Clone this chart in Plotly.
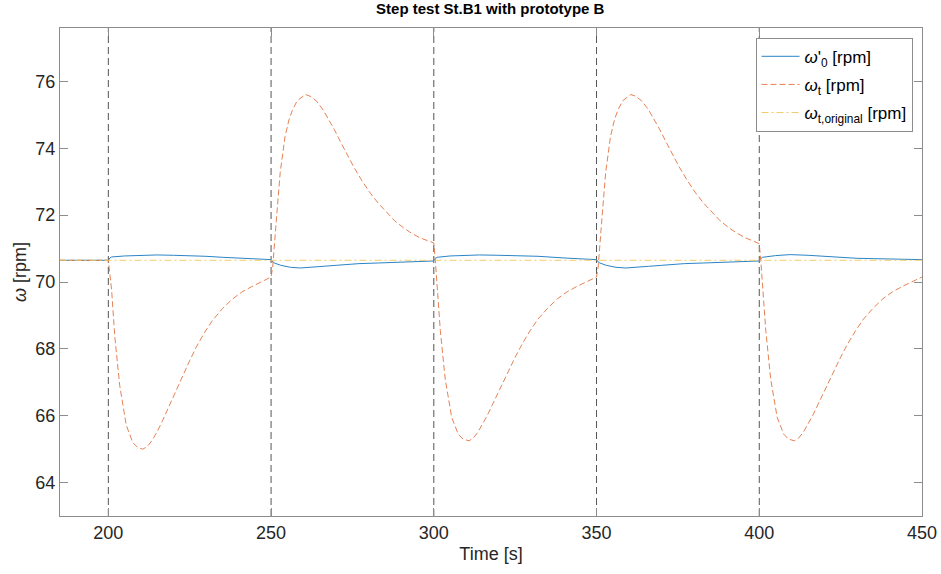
import plotly.graph_objects as go

# ---------------- data ----------------
vlines = [200, 250, 300, 350, 400]

t_omega0 = [185, 200, 200.5, 201, 205, 210, 215, 220, 225, 230, 235, 240, 245, 250,
            250.5, 251, 253, 256, 259, 263, 266, 270, 277, 283, 290, 295, 300,
            300.5, 301, 305, 310, 314, 320, 325, 332, 340, 345, 350,
            350.5, 351, 353, 356, 359, 363, 366, 370, 377, 383, 390, 395, 400,
            400.5, 401, 405, 409.5, 415, 420, 425, 430, 435, 440, 445, 450]
v_omega0 = [70.65, 70.65, 70.72, 70.75, 70.78, 70.80, 70.81, 70.80, 70.79, 70.77, 70.74, 70.71, 70.69, 70.67,
            70.60, 70.57, 70.50, 70.44, 70.42, 70.44, 70.47, 70.50, 70.55, 70.57, 70.60, 70.62, 70.63,
            70.70, 70.74, 70.78, 70.80, 70.81, 70.80, 70.79, 70.77, 70.72, 70.70, 70.67,
            70.60, 70.57, 70.50, 70.44, 70.42, 70.44, 70.47, 70.50, 70.55, 70.57, 70.60, 70.62, 70.63,
            70.70, 70.74, 70.79, 70.82, 70.80, 70.77, 70.73, 70.71, 70.70, 70.69, 70.68, 70.67]

t_omegat = [185, 200, 201, 202, 203.5, 205.5, 207.5, 209, 210.6, 212, 213.5, 215, 216.5, 218, 219.5,
            221, 223, 225, 227, 229.5, 232, 235, 238, 241, 244, 247, 250,
            250.5, 251, 251.8, 252.8, 254.3, 255.5, 256.5, 258, 260.5, 262, 264, 266, 267.6, 269.5,
            271.2, 273, 275.3, 278, 280.4, 283, 285.6, 288, 290.7, 293, 295.8, 298, 300,
            300.5, 301, 302, 303.5, 305.5, 307.5, 309, 310.8, 312, 313.5, 315, 316.5, 318, 319.5,
            321, 323, 325, 327, 329.5, 332, 335, 338, 341, 344, 347, 350,
            350.5, 351, 351.8, 352.8, 354.3, 355.5, 356.5, 358, 360.5, 362, 364, 366, 367.6, 369.5,
            371.2, 373, 375.3, 378, 380.4, 383, 385.6, 388, 390.7, 393, 395.8, 398, 400,
            400.5, 401, 402, 403.5, 405.5, 407.5, 409, 410.8, 412, 413.5, 415, 416.5, 418, 419.5,
            421, 423, 425, 427, 429.5, 432, 435, 438, 441, 444, 447, 450]
v_omegat = [70.65, 70.65, 69.77, 68.35, 66.90, 65.72, 65.20, 65.05, 65.00, 65.08, 65.27, 65.52, 65.82, 66.15, 66.48,
            66.82, 67.25, 67.65, 68.05, 68.48, 68.85, 69.20, 69.48, 69.70, 69.86, 70.00, 70.15,
            70.45, 71.00, 72.07, 73.27, 74.36, 74.85, 75.13, 75.42, 75.61, 75.56, 75.41, 75.15, 74.88, 74.55,
            74.22, 73.87, 73.46, 73.02, 72.67, 72.35, 72.07, 71.83, 71.62, 71.47, 71.32, 71.23, 71.17,
            70.60, 69.95, 68.55, 67.10, 65.95, 65.45, 65.30, 65.25, 65.32, 65.50, 65.74, 66.02, 66.33, 66.64,
            66.96, 67.37, 67.75, 68.12, 68.53, 68.89, 69.22, 69.50, 69.71, 69.87, 70.00, 70.15,
            70.45, 71.00, 72.07, 73.27, 74.36, 74.85, 75.13, 75.42, 75.61, 75.56, 75.41, 75.15, 74.88, 74.55,
            74.22, 73.87, 73.46, 73.02, 72.67, 72.35, 72.07, 71.83, 71.62, 71.47, 71.32, 71.22, 71.15,
            70.60, 69.95, 68.55, 67.10, 65.95, 65.45, 65.30, 65.25, 65.32, 65.50, 65.74, 66.02, 66.33, 66.64,
            66.96, 67.37, 67.75, 68.12, 68.53, 68.89, 69.22, 69.50, 69.71, 69.87, 70.00, 70.15]

t_orig = [185, 450]
v_orig = [70.65, 70.65]

x_ticks = [200, 250, 300, 350, 400, 450]
y_ticks = [64, 66, 68, 70, 72, 74, 76]

# ---------------- figure ----------------
fig = go.Figure()
fig.add_trace(go.Scatter(x=t_omega0, y=v_omega0, mode="lines",
                         name="<i>ω</i>'<sub>0</sub> [rpm]", legendgroup="a",
                         line=dict(color="#2b84c6", width=1)))
fig.add_trace(go.Scatter(x=t_omegat, y=v_omegat, mode="lines",
                         name="<i>ω</i><sub>t</sub> [rpm]", legendgroup="b",
                         line=dict(color="#e2733f", width=0.9, dash="6px,3px")))
fig.add_trace(go.Scatter(x=t_orig, y=v_orig, mode="lines",
                         name="<i>ω</i><sub>t,original</sub> [rpm]", legendgroup="c",
                         line=dict(color="#f2c75a", width=0.9, dash="7px,3px,2px,3px")))

for xv in vlines:
    fig.add_shape(type="line", x0=xv, x1=xv, y0=0, y1=1, xref="x", yref="paper",
                  line=dict(color="#555555", width=1, dash="7px,4px"), layer="below")

axis_common = dict(showline=True, mirror="ticks", linecolor="#8c8c8c", linewidth=1,
                   ticks="inside", ticklen=8, tickcolor="#8c8c8c",
                   showgrid=False, zeroline=False, automargin=False,
                   tickfont=dict(size=18, color="#262626"))

fig.update_layout(
    width=941, height=574,
    margin=dict(l=60, r=19, t=28, b=58),
    paper_bgcolor="white", plot_bgcolor="white",
    font=dict(family="Liberation Sans, Arial, sans-serif", color="#262626"),
    title=dict(text="<b>Step test St.B1 with prototype B</b>", x=0.521, xanchor="center",
               y=0.985, yanchor="middle", font=dict(size=15, color="#000000")),
    xaxis=dict(range=[185.15, 450], tickvals=x_ticks,
               title=dict(text="Time [s]", font=dict(size=18), standoff=5), **axis_common),
    yaxis=dict(range=[63, 77.6], tickvals=y_ticks,
               title=dict(text="<i>ω</i> [rpm]", font=dict(size=18), standoff=4), **axis_common),
    legend=dict(x=0.989, xanchor="right", y=0.98, yanchor="top",
                bgcolor="white", bordercolor="#8c8c8c", borderwidth=1,
                font=dict(size=17, color="#000000"), tracegroupgap=3,
                itemwidth=38),
    showlegend=True,
)

fig.write_html("out.html")
